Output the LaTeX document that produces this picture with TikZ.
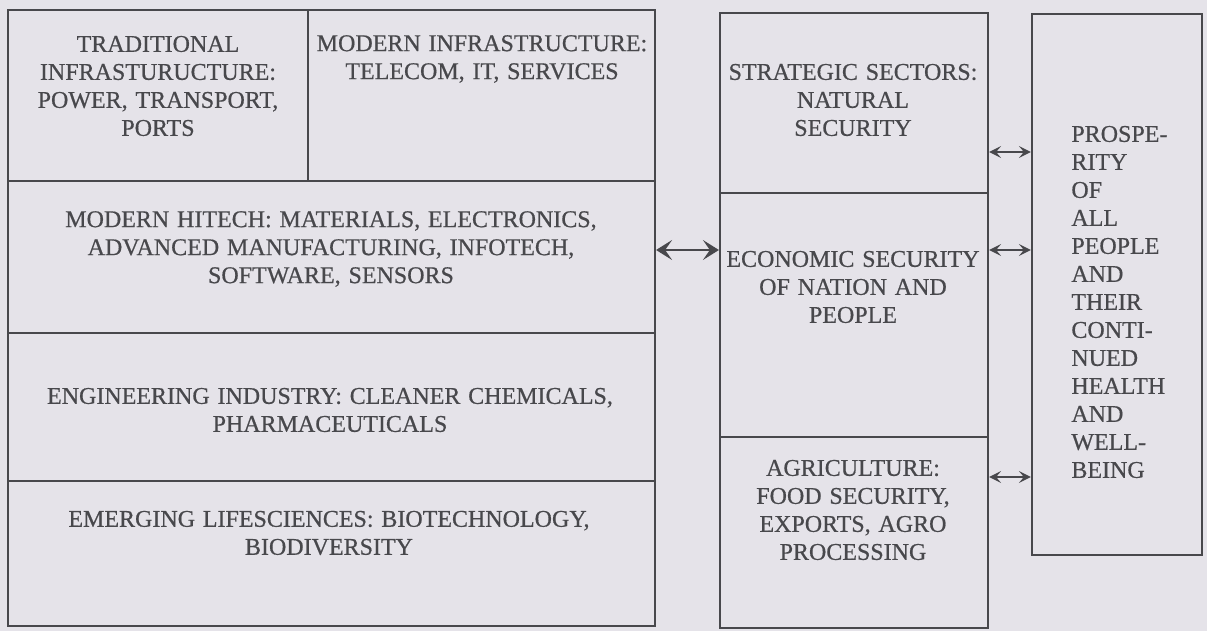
\documentclass[tikz,border=0pt]{standalone}
\usepackage{fontspec}
\setmainfont{Liberation Serif}
\newfontfamily\capsfont{Liberation Serif}[WordSpace=1.3,FakeBold=0.6]
\usepackage{tikz}
\usetikzlibrary{arrows.meta,fit}

\definecolor{paper}{RGB}{229,227,233}
\definecolor{ink}{RGB}{72,72,76}

\begin{document}
\begin{tikzpicture}[x=0.5pt,y=-0.5pt,
  cell/.style={draw=ink,line width=1.1pt,inner sep=0pt},
  lbl/.style={text=ink,align=center,inner sep=0pt,font=\capsfont\fontsize{12}{14}\selectfont},
  link/.style={draw=ink,line width=.75pt,<->,>={Stealth[length=6pt,width=6pt,inset=2.5pt]}},
  biglink/.style={link,>={Stealth[length=8pt,width=10pt,inset=3.5pt]}}]
% Paper
\fill[paper] (0,0) rectangle (1207,631);

% Left block
\node[cell,fit={(8,10) (308,181)}] (trad) {};
\node[cell,fit={(308,10) (655,181)}] (modinfra) {};
\node[cell,fit={(8,181) (655,333)}] (hitech) {};
\node[cell,fit={(8,333) (655,481)}] (engin) {};
\node[cell,fit={(8,481) (655,626)}] (emerg) {};

% Middle block
\node[cell,fit={(720,13) (988,193)}] (strat) {};
\node[cell,fit={(720,193) (988,437)}] (econ) {};
\node[cell,fit={(720,437) (988,628)}] (agri) {};

% Right box
\node[cell,fit={(1032,14) (1202,555)}] (prosp) {};

% Labels
\node[lbl] (tradtext) at (158,86) {TRADITIONAL\\INFRASTURUCTURE:\\POWER, TRANSPORT,\\PORTS};
\node[lbl] (modinfratext) at (482,59) {MODERN INFRASTRUCTURE:\\TELECOM, IT, SERVICES};
\node[lbl] (hitechtext) at (331,249) {MODERN HITECH: MATERIALS, ELECTRONICS,\\ADVANCED MANUFACTURING, INFOTECH,\\SOFTWARE, SENSORS};
\node[lbl] (engintext) at (330,410) {ENGINEERING INDUSTRY: CLEANER CHEMICALS,\\PHARMACEUTICALS};
\node[lbl] (emergtext) at (329,533) {EMERGING LIFESCIENCES: BIOTECHNOLOGY,\\BIODIVERSITY};
\node[lbl] (strattext) at (853,100) {STRATEGIC SECTORS:\\NATURAL\\SECURITY};
\node[lbl] (econtext) at (853,287) {ECONOMIC SECURITY\\OF NATION AND\\PEOPLE};
\node[lbl] (agritext) at (853,510) {AGRICULTURE:\\FOOD SECURITY,\\EXPORTS, AGRO\\PROCESSING};
\node[lbl,align=left,anchor=west] (prosptext) at (1071,302) {PROSPE-\\RITY\\OF\\ALL\\PEOPLE\\AND\\THEIR\\CONTI-\\NUED\\HEALTH\\AND\\WELL-\\BEING};

% Arrows
\coordinate (a0) at (0,152);
\coordinate (a1) at (0,250);
\coordinate (a2) at (0,477);
\draw[biglink] (hitech.east |- a1) -- (econ.west |- a1);
\draw[link] (strat.east |- a0) -- (prosp.west |- a0);
\draw[link] (econ.east |- a1) -- (prosp.west |- a1);
\draw[link] (agri.east |- a2) -- (prosp.west |- a2);
\end{tikzpicture}
\end{document}
